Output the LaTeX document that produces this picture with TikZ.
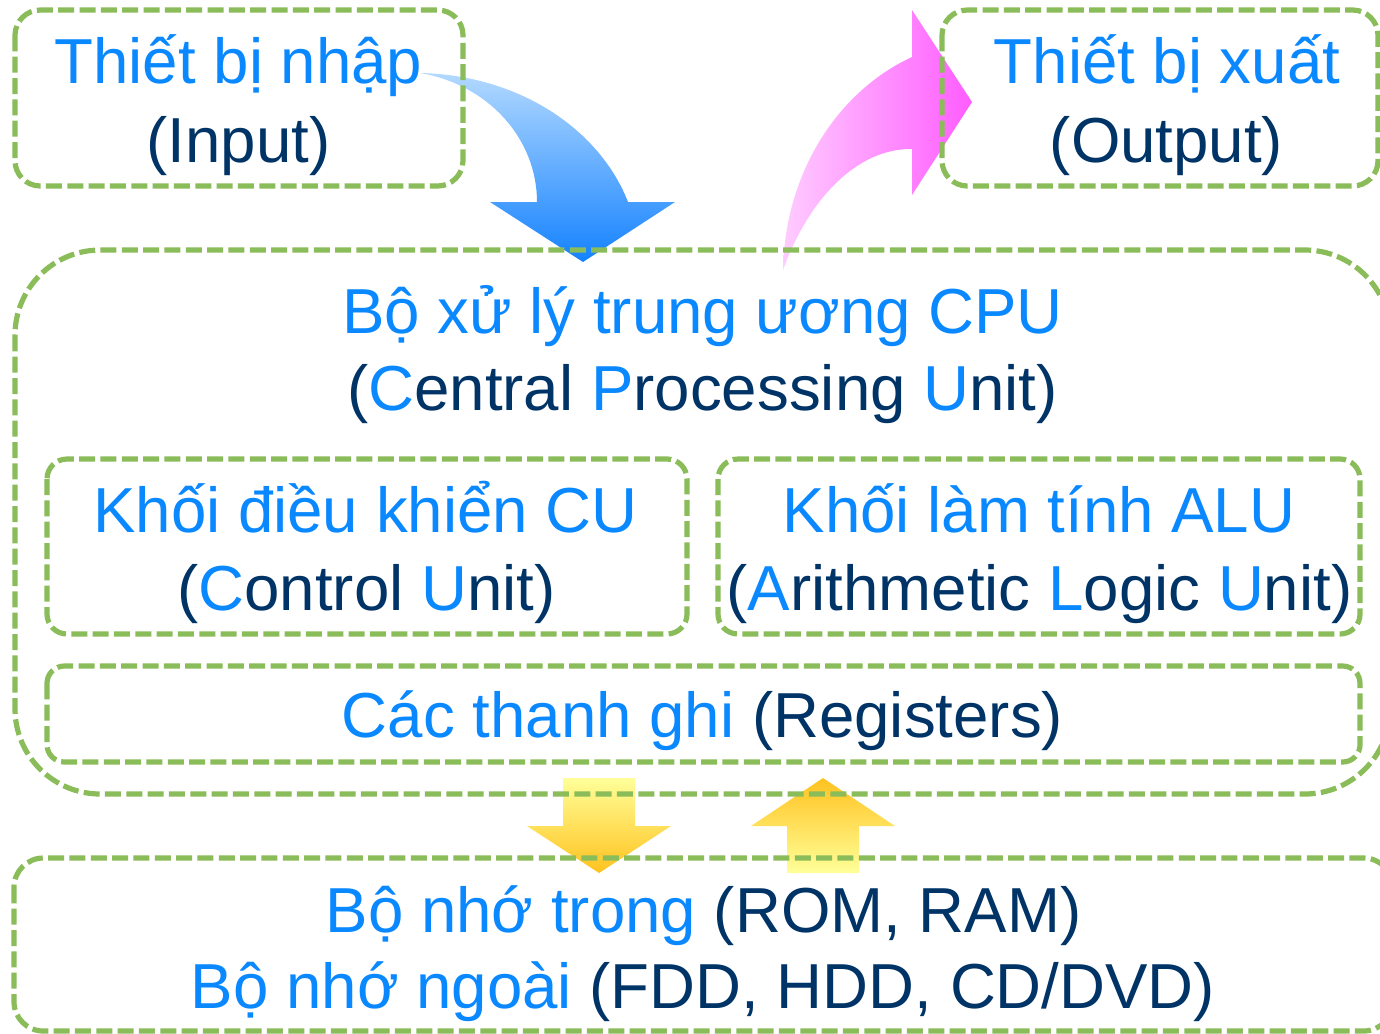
\documentclass[tikz,border=0pt]{standalone}
\usepackage{fontspec}
\setmainfont{Liberation Sans}
\definecolor{tb}{HTML}{0A88FF}
\definecolor{tn}{HTML}{003366}
\definecolor{gr}{HTML}{8BBC5A}
\definecolor{bll}{HTML}{B3D9FF}
\definecolor{bld}{HTML}{1482FF}
\definecolor{pkl}{HTML}{FFCCFF}
\definecolor{pkd}{HTML}{FF5CFF}
\definecolor{yl}{HTML}{FFFF99}
\definecolor{yo}{HTML}{FFC21F}
\newcommand\hb[1]{\textcolor{tb}{#1}}
\tikzset{
  gbox/.style={draw=gr, line width=3.9pt, dash pattern=on 12pt off 4pt},
  lbl/.style={anchor=base, inner sep=0pt, text=tn, font=\fontsize{47.7pt}{57pt}\selectfont}
}
\begin{document}
\begin{tikzpicture}[x=0.75pt,y=-0.75pt]
\useasboundingbox (0,0) rectangle (1380,1033);
\clip (0,0) rectangle (1380,1033);
% block arrows
\shade[top color=bll, bottom color=bld] (420,73) .. controls (520,75) and (600,130) .. (628,202) -- (675,202) -- (583,262) -- (490,202) -- (537,202) .. controls (537,140) and (490,85) .. (420,73) -- cycle;
\shade[left color=pkl, right color=pkd] (783,270) .. controls (785,170) and (840,90) .. (912,57) -- (912,10) -- (972,102) -- (912,195) -- (912,149) .. controls (860,148) and (810,195) .. (783,270) -- cycle;
\shade[top color=yl, bottom color=yo] (563,778) -- (635,778) -- (635,826) -- (671,826) -- (599,873) -- (527,826) -- (563,826) -- cycle;
\shade[top color=yo, bottom color=yl] (823,778) -- (895,826) -- (859,826) -- (859,873) -- (787,873) -- (787,826) -- (751,826) -- cycle;
% boxes
\draw[gbox, rounded corners=19pt] (15,10) rectangle (463,186);
\draw[gbox, rounded corners=19pt] (942,10) rectangle (1378,186);
\draw[gbox, rounded corners=64pt] (15,250) rectangle (1390,794);
\draw[gbox, rounded corners=15pt] (47,459) rectangle (687,634);
\draw[gbox, rounded corners=15pt] (718,459) rectangle (1360,634);
\draw[gbox, rounded corners=13pt] (47,666) rectangle (1360,762);
\draw[gbox, rounded corners=22pt] (14,858) rectangle (1393,1031);
% texts
\node[lbl] (in1) at (238.5,83.5) {\hb{Thiết bị nhập}};
\node[lbl] (in2) at (238.5,162) {(Input)};
\node[lbl] (out1) at (1167,83.5) {\hb{Thiết bị xuất}};
\node[lbl] (out2) at (1166.5,162) {(Output)};
\node[lbl] (cpu1) at (702.5,333) {\hb{Bộ xử lý trung ương CPU}};
\node[lbl] (cpu2) at (702.5,410) {(\hb{C}entral \hb{P}rocessing \hb{U}nit)};
\node[lbl] (cu1) at (365.5,532) {\hb{Khối điều khiển CU}};
\node[lbl] (cu2) at (366.5,610) {(\hb{C}ontrol \hb{U}nit)};
\node[lbl] (alu1) at (1039,532) {\hb{Khối làm tính ALU}};
\node[lbl] (alu2) at (1039.5,610) {(\hb{A}rithmetic \hb{L}ogic \hb{U}nit)};
\node[lbl] (reg) at (702.5,737) {\hb{Các thanh ghi} (Registers)};
\node[lbl] (mem1) at (703.5,932) {\hb{Bộ nhớ trong} (ROM, RAM)};
\node[lbl] (mem2) at (703,1008) {\hb{Bộ nhớ ngoài} (FDD, HDD, CD/DVD)};
\end{tikzpicture}
\end{document}
